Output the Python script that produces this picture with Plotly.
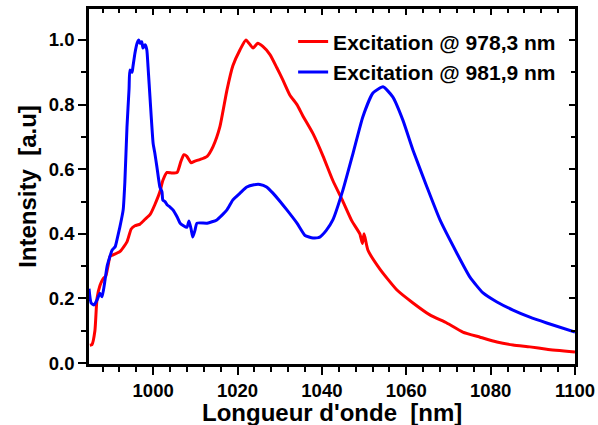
import plotly.graph_objects as go

# Emission spectra (normalised intensity) versus wavelength in nm
wl_978 = [985.0, 985.5, 986.2, 986.7, 987.4, 988.1, 988.8, 989.3, 989.8, 990.5,
          992.1, 993.8, 994.8, 995.7, 996.9, 998.1, 999.3, 1000.4, 1001.6, 1002.3,
          1003.3, 1004.5, 1005.7, 1006.6, 1007.3, 1008.0, 1009.0, 1009.9, 1011.1, 1012.8,
          1014.2, 1015.8, 1017.5, 1018.9, 1020.6, 1022.0, 1023.0, 1023.7, 1024.8, 1026.0,
          1027.7, 1029.3, 1030.8, 1032.4, 1034.1, 1035.5, 1037.9, 1040.3, 1042.6, 1045.0,
          1047.1, 1049.0, 1049.6, 1050.0, 1050.9, 1053.8, 1057.8, 1061.6, 1065.6, 1069.6,
          1073.4, 1077.5, 1081.5, 1085.3, 1089.3, 1093.3, 1100.0]
int_978 = [0.055, 0.057, 0.10, 0.20, 0.24, 0.26, 0.27, 0.30, 0.33, 0.335,
           0.345, 0.375, 0.415, 0.425, 0.43, 0.445, 0.46, 0.49, 0.53, 0.565,
           0.59, 0.588, 0.59, 0.625, 0.645, 0.64, 0.62, 0.625, 0.63, 0.64,
           0.67, 0.73, 0.845, 0.92, 0.97, 1.0, 0.985, 0.975, 0.99, 0.98,
           0.955, 0.915, 0.875, 0.83, 0.80, 0.765, 0.71, 0.64, 0.565, 0.50,
           0.44, 0.40, 0.37, 0.40, 0.35, 0.29, 0.226, 0.186, 0.149, 0.124,
           0.096, 0.08, 0.065, 0.056, 0.05, 0.043, 0.034]

wl_981 = [984.8, 985.3, 986.0, 986.7, 987.4, 987.9, 988.6, 989.1, 990.3, 991.0,
          991.4, 992.1, 992.9, 993.3, 993.8, 994.3, 994.5, 995.0, 995.2, 995.7,
          996.2, 996.6, 996.9, 997.3, 997.6, 998.1, 998.5, 998.8, 999.3, 1000.0,
          1000.4, 1000.9, 1001.6, 1002.1, 1002.3, 1002.8, 1003.3, 1004.0, 1004.7, 1005.7,
          1006.4, 1008.0, 1008.5, 1009.0, 1009.4, 1009.9, 1010.4, 1012.8, 1015.1, 1017.5,
          1018.9, 1020.6, 1022.2, 1023.9, 1025.3, 1026.9, 1028.4, 1030.1, 1031.7, 1034.1,
          1036.0, 1037.9, 1039.5, 1041.0, 1042.6, 1045.0, 1047.4, 1049.7, 1052.1, 1054.5,
          1056.8, 1059.2, 1061.6, 1064.9, 1068.0, 1072.0, 1075.1, 1078.2, 1081.5, 1085.3,
          1089.3, 1093.3, 1100.0]
int_981 = [0.23, 0.186, 0.18, 0.195, 0.216, 0.205, 0.257, 0.30, 0.35, 0.36,
           0.38, 0.42, 0.474, 0.56, 0.73, 0.85, 0.907, 0.90, 0.916, 0.96,
           0.99, 1.0, 0.99, 0.995, 0.975, 0.985, 0.97, 0.916, 0.814, 0.68,
           0.65, 0.607, 0.545, 0.53, 0.505, 0.50, 0.49, 0.483, 0.474, 0.452,
           0.433, 0.42, 0.44, 0.415, 0.39, 0.41, 0.433, 0.433, 0.443, 0.474,
           0.505, 0.526, 0.545, 0.552, 0.553, 0.545, 0.526, 0.50, 0.474, 0.433,
           0.395, 0.387, 0.39, 0.41, 0.443, 0.536, 0.65, 0.762, 0.836, 0.855,
           0.824, 0.752, 0.659, 0.545, 0.443, 0.34, 0.266, 0.217, 0.189, 0.164,
           0.142, 0.124, 0.096]

names = ["Excitation @ 978,3 nm", "Excitation @ 981,9 nm"]
colors = ["#ff0000", "#0000ff"]
x_title = "Longueur d'onde  [nm]"
y_title = "Intensity  [a.u]"

x_range = [984.8, 1100]
y_range = [-0.003, 1.096]

FONT = "Liberation Sans, Arial, sans-serif"

fig = go.Figure()
for wl, inten, name, col, grp in [(wl_978, int_978, names[0], colors[0], "a"),
                                   (wl_981, int_981, names[1], colors[1], "b")]:
    fig.add_trace(go.Scatter(x=wl, y=inten, mode="lines", name=name, legendgroup=grp,
                             line=dict(color=col, width=3, shape="spline", smoothing=0.5)))

# empty trace so the top/right frame axes get drawn
fig.add_trace(go.Scatter(x=[None], y=[None], xaxis="x2", yaxis="y2",
                         showlegend=False, hoverinfo="skip"))

axis_common = dict(showgrid=False, zeroline=False, showline=True, linecolor="black",
                   linewidth=2.5, tickcolor="black", tickwidth=2, automargin=False)

fig.update_layout(
    width=598, height=425,
    margin=dict(l=89, r=23, t=9, b=61),
    paper_bgcolor="white", plot_bgcolor="white",
    font=dict(family=FONT, color="black"),
    showlegend=True,
    legend=dict(x=0.42, y=0.965, xanchor="left", yanchor="top",
                bgcolor="rgba(0,0,0,0)", borderwidth=0, tracegroupgap=0,
                font=dict(family=FONT, size=21, weight="bold", color="black")),
    xaxis=dict(range=x_range, tick0=1000, dtick=20, ticks="outside", ticklen=8,
               tickfont=dict(family=FONT, size=18.5, weight="bold"),
               minor=dict(dtick=4, tick0=1000, ticks="outside", ticklen=5,
                          tickwidth=2, tickcolor="black"),
               **axis_common),
    yaxis=dict(range=y_range, tick0=0, dtick=0.2, tickformat=".1f", ticks="outside",
               ticklen=8,
               tickfont=dict(family=FONT, size=18.5, weight="bold"),
               minor=dict(dtick=0.1, ticks="outside", ticklen=5, tickwidth=2,
                          tickcolor="black"),
               title=dict(text=y_title, standoff=6,
                          font=dict(family=FONT, size=24, weight="bold")),
               **axis_common),
    xaxis2=dict(range=x_range, overlaying="x", side="top", anchor="y2",
                tick0=1000, dtick=20, ticks="inside", ticklen=6, showticklabels=False,
                minor=dict(dtick=4, tick0=1000, ticks="inside", ticklen=4,
                           tickwidth=2, tickcolor="black"),
                **axis_common),
    yaxis2=dict(range=y_range, overlaying="y", side="right", anchor="x2",
                tick0=0, dtick=0.2, ticks="inside", ticklen=6, showticklabels=False,
                minor=dict(dtick=0.1, ticks="inside", ticklen=4, tickwidth=2,
                           tickcolor="black"),
                **axis_common),
)

# x-axis title placed below the tick labels
fig.add_annotation(text=x_title, xref="paper", yref="paper", x=0.5, y=-0.138,
                   xanchor="center", yanchor="middle", showarrow=False,
                   font=dict(family=FONT, size=24, weight="bold", color="black"))

fig.write_html("out.html")
